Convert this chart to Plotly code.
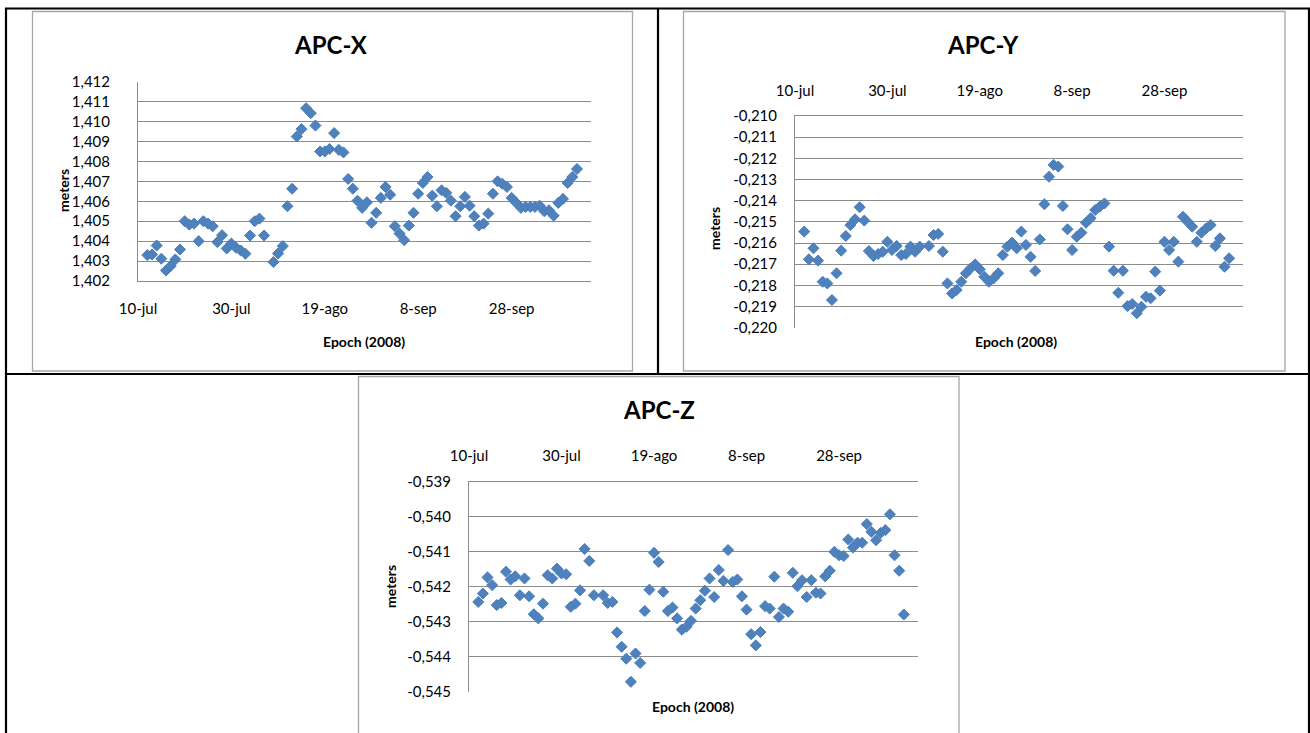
import plotly.graph_objects as go
import pandas as pd

W, H = 1310, 733

# ---------------- data ----------------
base_date = pd.Timestamp("2008-07-10")
day_offsets = list(range(2, 28)) + list(range(29, 95))
epochs = [base_date + pd.Timedelta(days=d) for d in day_offsets]

apc_x = [1.40330, 1.40333, 1.40378, 1.40312, 1.40253, 1.40275, 1.40308, 1.40358, 1.40500, 1.40483,
         1.40488, 1.40400, 1.40500, 1.40488, 1.40475, 1.40395, 1.40430, 1.40363, 1.40388, 1.40367,
         1.40353, 1.40337, 1.40428, 1.40500, 1.40513, 1.40428,
         1.40295, 1.40338, 1.40375, 1.40575, 1.40663, 1.40925, 1.40962, 1.41067, 1.41042, 1.40980,
         1.40850, 1.40850, 1.40862, 1.40942, 1.40858, 1.40845, 1.40712, 1.40663, 1.40603, 1.40567,
         1.40595, 1.40492, 1.40542, 1.40617, 1.40672, 1.40633, 1.40475, 1.40438, 1.40405, 1.40478,
         1.40542, 1.40638, 1.40692, 1.40722, 1.40628, 1.40575, 1.40655, 1.40642, 1.40603, 1.40525,
         1.40575, 1.40622, 1.40578, 1.40525, 1.40478, 1.40488, 1.40538, 1.40638, 1.40700, 1.40688,
         1.40672, 1.40617, 1.40592, 1.40567, 1.40572, 1.40572, 1.40572, 1.40578, 1.40550, 1.40555,
         1.40528, 1.40592, 1.40612, 1.40692, 1.40722, 1.40762]

apc_y = [-0.21546, -0.21677, -0.21625, -0.21683, -0.21783, -0.21791, -0.21869, -0.21743, -0.21636, -0.21567,
         -0.21515, -0.21488, -0.21431, -0.21494, -0.21638, -0.21661, -0.21652, -0.21641, -0.21594, -0.21633,
         -0.21614, -0.21657, -0.21652, -0.21617, -0.21641, -0.21617,
         -0.21614, -0.21562, -0.21557, -0.21641, -0.21791, -0.21838, -0.21822, -0.21783, -0.21743, -0.21720,
         -0.21701, -0.21724, -0.21759, -0.21783, -0.21767, -0.21743, -0.21657, -0.21617, -0.21598, -0.21625,
         -0.21546, -0.21609, -0.21665, -0.21732, -0.21583, -0.21417, -0.21287, -0.21231, -0.21239, -0.21425,
         -0.21535, -0.21633, -0.21570, -0.21551, -0.21504, -0.21483, -0.21444, -0.21428, -0.21413, -0.21617,
         -0.21731, -0.21835, -0.21731, -0.21898, -0.21888, -0.21932, -0.21901, -0.21854, -0.21861, -0.21735,
         -0.21825, -0.21594, -0.21633, -0.21594, -0.21688, -0.21476, -0.21499, -0.21523, -0.21594, -0.21551,
         -0.21531, -0.21515, -0.21614, -0.21578, -0.21712, -0.21672]

apc_z = [-0.54243, -0.54219, -0.54173, -0.54195, -0.54252, -0.54246, -0.54157, -0.54179, -0.54170, -0.54224,
         -0.54176, -0.54227, -0.54278, -0.54290, -0.54248, -0.54167, -0.54176, -0.54148, -0.54162, -0.54164,
         -0.54257, -0.54248, -0.54210, -0.54092, -0.54126, -0.54224,
         -0.54224, -0.54246, -0.54243, -0.54330, -0.54371, -0.54405, -0.54471, -0.54390, -0.54417, -0.54269,
         -0.54208, -0.54103, -0.54129, -0.54214, -0.54269, -0.54259, -0.54290, -0.54322, -0.54314, -0.54297,
         -0.54262, -0.54238, -0.54211, -0.54176, -0.54229, -0.54152, -0.54183, -0.54095, -0.54186, -0.54179,
         -0.54227, -0.54265, -0.54335, -0.54367, -0.54329, -0.54255, -0.54262, -0.54171, -0.54286, -0.54262,
         -0.54271, -0.54160, -0.54198, -0.54181, -0.54229, -0.54181, -0.54217, -0.54219, -0.54170, -0.54154,
         -0.54100, -0.54110, -0.54112, -0.54065, -0.54088, -0.54074, -0.54074, -0.54021, -0.54043, -0.54067,
         -0.54046, -0.54038, -0.53993, -0.54110, -0.54154, -0.54279]

date_tick_vals = ["2008-07-10", "2008-07-30", "2008-08-19", "2008-09-08", "2008-09-28"]
date_tick_text = ["10-jul", "30-jul", "19-ago", "8-sep", "28-sep"]
date_range = ["2008-07-10", "2008-10-15"]

x_tick_vals = [1.402, 1.403, 1.404, 1.405, 1.406, 1.407, 1.408, 1.409, 1.410, 1.411, 1.412]
x_tick_text = ["1,402", "1,403", "1,404", "1,405", "1,406", "1,407", "1,408", "1,409", "1,410", "1,411", "1,412"]
y_tick_vals = [-0.220, -0.219, -0.218, -0.217, -0.216, -0.215, -0.214, -0.213, -0.212, -0.211, -0.210]
y_tick_text = ["-0,220", "-0,219", "-0,218", "-0,217", "-0,216", "-0,215", "-0,214", "-0,213", "-0,212", "-0,211", "-0,210"]
z_tick_vals = [-0.545, -0.544, -0.543, -0.542, -0.541, -0.540, -0.539]
z_tick_text = ["-0,545", "-0,544", "-0,543", "-0,542", "-0,541", "-0,540", "-0,539"]

# ---------------- styling ----------------
FONT = "Lato, Carlito, Calibri, sans-serif"
MARKER_COLOR = "#4a7ebb"
GRID = "#8c8c8c"
BOX = "#a6a6a6"


def fx(p):
    return p / W


def fy(p):
    return 1 - p / H


fig = go.Figure()

panels = [
    # name, values, x-domain px, y-domain px (top, bottom), y ticks, x side, x standoff, y standoff
    ("APC-X", apc_x, (138, 591), (81.7, 281), x_tick_vals, x_tick_text, "bottom", 14, 24),
    ("APC-Y", apc_y, (795, 1243), (116, 327.7), y_tick_vals, y_tick_text, "top", 13, 14),
    ("APC-Z", apc_z, (469, 917.7), (481.7, 692), z_tick_vals, z_tick_text, "top", 14, 14),
]

layout_axes = {}
for i, (name, vals, (xl, xr), (yt, yb), tv, tt, xside, xstand, ystand) in enumerate(panels):
    suffix = "" if i == 0 else str(i + 1)
    fig.add_trace(go.Scatter(
        x=epochs, y=vals, mode="markers", name=name,
        marker=dict(symbol="diamond", size=8.5, color="#4f81bd",
                    line=dict(color=MARKER_COLOR, width=1)),
        xaxis="x" + suffix, yaxis="y" + suffix, showlegend=False,
        hoverinfo="skip",
    ))
    layout_axes["xaxis" + suffix] = dict(
        domain=[fx(xl), fx(xr)], anchor="y" + suffix, type="date",
        range=date_range, tickmode="array", tickvals=date_tick_vals, ticktext=date_tick_text,
        showgrid=False, zeroline=False, showline=True, linecolor=GRID, linewidth=1,
        side=xside, ticks="", ticklabelstandoff=xstand, automargin=False,
        tickfont=dict(family=FONT, size=15, color="#000000"),
    )
    layout_axes["yaxis" + suffix] = dict(
        domain=[fy(yb), fy(yt)], anchor="x" + suffix,
        range=[tv[0], tv[-1]], tickmode="array", tickvals=tv, ticktext=tt,
        showgrid=True, gridcolor=GRID, gridwidth=1, zeroline=False,
        showline=True, linecolor=GRID, linewidth=1, ticks="",
        ticklabelstandoff=ystand, automargin=False,
        tickfont=dict(family=FONT, size=15, color="#000000"),
    )

annotations = []
titles = [("APC-X", 331, 44), ("APC-Y", 983, 44), ("APC-Z", 659, 409)]
for t, x, y in titles:
    annotations.append(dict(text="<b>%s</b>" % t, x=fx(x), y=fy(y), xref="paper", yref="paper",
                            xanchor="center", yanchor="middle", showarrow=False,
                            font=dict(family=FONT, size=24, color="#000000")))
ytitles = [(63, 191), (715, 229), (390, 587)]
for x, y in ytitles:
    annotations.append(dict(text="<b>meters</b>", x=fx(x), y=fy(y), xref="paper", yref="paper",
                            xanchor="center", yanchor="middle", showarrow=False, textangle=-90,
                            font=dict(family=FONT, size=14, color="#000000")))
xtitles = [(364, 341), (1016, 341), (693, 706)]
for x, y in xtitles:
    annotations.append(dict(text="<b>Epoch (2008)</b>", x=fx(x), y=fy(y), xref="paper", yref="paper",
                            xanchor="center", yanchor="middle", showarrow=False,
                            font=dict(family=FONT, size=14, color="#000000")))


def pline(x0, y0, x1, y1, color, width):
    return dict(type="line", xref="paper", yref="paper", x0=fx(x0), y0=fy(y0), x1=fx(x1), y1=fy(y1),
                line=dict(color=color, width=width), layer="above")


def prect(x0, y0, x1, y1, color, width):
    return dict(type="rect", xref="paper", yref="paper", x0=fx(x0), y0=fy(y0), x1=fx(x1), y1=fy(y1),
                line=dict(color=color, width=width), fillcolor="rgba(0,0,0,0)", layer="below")


shapes = [
    prect(32.5, 11.5, 632.5, 371, BOX, 1.3),
    prect(683.5, 11.5, 1285, 371, BOX, 1.3),
    prect(358.5, 376.5, 959, 740, BOX, 1.3),
    pline(5, 8.5, 1310, 8.5, "#000000", 2.2),
    pline(6, 8, 6, 733, "#000000", 2.2),
    pline(1309, 8, 1309, 733, "#000000", 2.2),
    pline(658, 8, 658, 374, "#000000", 2.2),
    pline(5, 374, 1310, 374, "#000000", 2.2),
]

fig.update_layout(
    width=W, height=H, autosize=False,
    margin=dict(l=0, r=0, t=0, b=0, pad=0, autoexpand=False),
    paper_bgcolor="white", plot_bgcolor="white",
    font=dict(family=FONT, color="#000000"),
    annotations=annotations, shapes=shapes,
    **layout_axes,
)

fig.write_html("out.html")
